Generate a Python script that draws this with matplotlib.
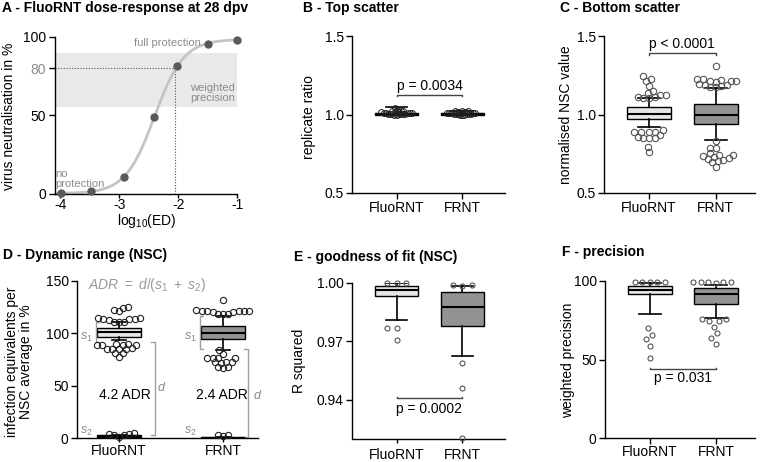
import numpy as np
import matplotlib
matplotlib.use("Agg")
import matplotlib.pyplot as plt
from matplotlib.ticker import FormatStrFormatter

plt.rcParams['font.family'] = ['Liberation Sans', 'DejaVu Sans']
plt.rcParams['axes.unicode_minus'] = False
plt.rcParams['mathtext.fontset'] = 'custom'
plt.rcParams['mathtext.rm'] = 'Liberation Sans'
plt.rcParams['mathtext.it'] = 'Liberation Sans:italic'
plt.rcParams['mathtext.bf'] = 'Liberation Sans:bold'

# ---------------- data ----------------
groups = ["FluoRNT", "FRNT"]

# A - dose response
dose_log10 = [-3.99, -3.48, -2.92, -2.41, -2.02, -1.50, -1.00]
neutralisation = [0.3, 1.5, 10.5, 48.6, 81.6, 95.7, 97.9]
fit_bottom, fit_top, fit_logec50, fit_hill = 0.0, 98.5, -2.40, 1.75
ed80_log10 = -2.05
ed80_level = 80
precision_band = [55, 90]

# B - top scatter (replicate ratio)
b_fluo = [0.998, 1.000, 1.001, 1.002, 1.003, 1.004, 1.005, 1.005, 1.006, 1.007,
          1.008, 1.009, 1.010, 1.011, 1.012, 1.013, 1.015, 1.017, 1.020, 1.022,
          1.025, 1.030, 1.040]
b_frnt = [0.998, 0.999, 1.000, 1.001, 1.002, 1.003, 1.004, 1.005, 1.006, 1.007,
          1.008, 1.009, 1.010, 1.011, 1.012, 1.013, 1.014, 1.016, 1.018, 1.020,
          1.022, 1.025]
b_box = [dict(med=1.005, q1=1.000, q3=1.012, whislo=0.995, whishi=1.050),
         dict(med=1.004, q1=1.000, q3=1.010, whislo=0.996, whishi=1.020)]
b_p = "p = 0.0034"

# C - bottom scatter (normalised NSC value)
c_box = [dict(med=1.003, q1=0.969, q3=1.046, whislo=0.918, whishi=1.103),
         dict(med=1.000, q1=0.939, q3=1.065, whislo=0.838, whishi=1.167)]
c_out_fluo = [1.247, 1.226, 1.213, 1.183, 1.150, 1.139, 1.124, 1.124, 1.113, 1.109,
              1.107, 1.103, 0.901, 0.891, 0.887, 0.887, 0.887, 0.869, 0.859, 0.852,
              0.852, 0.848, 0.795, 0.759]
c_out_frnt = [1.311, 1.226, 1.224, 1.218, 1.215, 1.213, 1.211, 1.209, 1.195, 1.190,
              1.186, 1.182, 1.178, 1.172, 0.831, 0.789, 0.789, 0.753, 0.745, 0.742,
              0.738, 0.731, 0.721, 0.718, 0.712, 0.704, 0.696, 0.668]
c_p = "p < 0.0001"

# D - dynamic range (NSC)
d_box_pos = [dict(med=101.0, q1=96.8, q3=104.8, whislo=93.5, whishi=110.5),
             dict(med=100.3, q1=94.2, q3=106.8, whislo=84.2, whishi=117.0)]
d_box_neg = [dict(med=2.0, q1=1.2, q3=2.6, whislo=0.6, whishi=3.3),
             dict(med=0.4, q1=0.1, q3=0.8, whislo=0.0, whishi=1.2)]
d_out_fluo = [125.0, 124.5, 122.0, 121.0, 115.0, 114.5, 114.0, 113.9, 113.5, 113.0,
              111.3, 111.0, 110.8, 90.0, 89.5, 89.2, 89.0, 88.7, 88.5,
              85.8, 85.5, 85.5, 85.3, 85.2, 81.6, 81.4, 77.7]
d_out_frnt = [131.6, 122.0, 121.8, 121.5, 121.5, 121.2, 121.0, 120.8, 120.5, 118.7,
              118.5, 118.2, 83.9, 80.0, 76.8, 76.6, 76.8, 76.5, 72.5, 72.0, 72.8, 72.2,
              67.5, 67.2, 67.6]
d_neg_fluo = [0.6, 4.2, 4.8, 3.8, 2.6, 2.6]
d_neg_frnt = [2.0, 3.2, 2.6]
d_adr = ["4.2 ADR", "2.4 ADR"]

# E - goodness of fit
e_box = [dict(med=0.9964, q1=0.9933, q3=0.9985, whislo=0.9808, whishi=1.0000),
         dict(med=0.9878, q1=0.9777, q3=0.9952, whislo=0.9623, whishi=0.9986)]
e_out_fluo = [0.99995, 0.99995, 0.99995, 0.9767, 0.9767, 0.9709]
e_out_frnt = [0.9990, 0.9987, 0.9988, 0.9589, 0.9460, 0.9203]
e_p = "p = 0.0002"

# F - precision
f_box = [dict(med=94.0, q1=91.7, q3=96.8, whislo=78.7, whishi=98.8),
         dict(med=91.5, q1=85.5, q3=95.3, whislo=76.6, whishi=97.4)]
f_out_fluo = [99.3, 99.3, 99.3, 99.3, 99.3, 70.2, 65.9, 62.8, 58.7, 51.1]
f_out_frnt = [99.3, 99.3, 99.3, 99.3, 99.3, 99.0, 75.5, 75.5, 74.8, 74.5,
              70.9, 66.6, 63.4, 59.6]
f_p = "p = 0.031"

# ---------------- figure ----------------
W, H = 761, 462
fig = plt.figure(figsize=(W / 100, H / 100), dpi=100)
GREY = '#8a8a8a'
FILLS = ['#e6e6e6', '#939393']


def add_ax(l, t, r, b):
    ax = fig.add_axes([l / W, 1 - b / H, (r - l) / W, (b - t) / H])
    for s in ['top', 'right']:
        ax.spines[s].set_visible(False)
    for s in ['left', 'bottom']:
        ax.spines[s].set_linewidth(1.0)
    ax.tick_params(length=4, width=1.0, labelsize=10, pad=2)
    ax.patch.set_alpha(0)
    return ax


def ftext(x, y, s, **kw):
    fig.text(x / W, 1 - y / H, s, **kw)


def title(x, y, s):
    ftext(x, y, s, fontsize=10, fontweight='bold', ha='left', va='center')


def ylabel(x, y, s):
    ftext(x, y, s, fontsize=10, rotation=90, ha='center', va='center',
          multialignment='center', linespacing=1.05)


def swarm(ax, x0, ys, spacing):
    ys = np.asarray(ys, float)
    tr = ax.transData
    pts = tr.transform(np.column_stack([np.full(len(ys), x0), ys]))
    py = pts[:, 1]
    px0 = pts[0, 0]
    order = np.argsort(py)
    placed = []
    offs = np.zeros(len(ys))
    for i in order:
        y = py[i]
        cands = [0.0]
        for xo, yo in placed:
            dy = abs(y - yo)
            if dy < spacing:
                dx = np.sqrt(spacing ** 2 - dy ** 2)
                cands += [xo + dx, xo - dx]
        cands.sort(key=lambda c: (abs(c), c))
        chosen = 0.0
        for c in cands:
            if all((c - xo) ** 2 + (y - yo) ** 2 >= spacing ** 2 - 1e-6 for xo, yo in placed):
                chosen = c
                break
        placed.append((chosen, y))
        offs[i] = chosen
    xs = tr.inverted().transform(np.column_stack([px0 + offs, py]))[:, 0]
    return xs


def boxes(ax, stats, positions, widths, capw):
    for st, pos, fc in zip(stats, positions, FILLS):
        ax.bxp([st], positions=[pos], widths=widths, capwidths=capw,
               patch_artist=True, showfliers=False, manage_ticks=False,
               boxprops=dict(facecolor=fc, edgecolor='black', linewidth=1.0),
               medianprops=dict(color='black', linewidth=1.5),
               whiskerprops=dict(color='black', linewidth=1.2),
               capprops=dict(color='black', linewidth=1.2))


def points(ax, pos, ys, spacing, ms, mec='#555555', mew=0.8, z=3):
    xs = swarm(ax, pos, ys, spacing)
    ax.plot(xs, ys, 'o', ls='none', mfc='none', mec=mec, ms=ms, mew=mew,
            clip_on=False, zorder=z)


def bracket(ax, y, tick, text, ty, color='#444444'):
    ax.plot([0, 0, 1, 1], [y + tick, y, y, y + tick], color=color, lw=1.0,
            clip_on=False)
    ax.text(0.5, ty, text, ha='center', va='center', fontsize=10)


def cat_axis(ax, xlim):
    ax.set_xlim(*xlim)
    ax.set_xticks(range(len(groups)))
    ax.set_xticklabels(groups, fontsize=10)


# ---------------- A ----------------
axA = add_ax(54.5, 37, 237, 193.5)
axA.set_xlim(-4.1, -1.0)
axA.set_ylim(0, 100)
axA.tick_params(axis='x', length=3, pad=0.5)
axA.axhspan(precision_band[0], precision_band[1], color='#e9e9e9', lw=0, zorder=0)
xc = np.linspace(-4.05, -1.0, 300)
yc = fit_bottom + (fit_top - fit_bottom) / (1 + 10 ** ((fit_logec50 - xc) * fit_hill))
axA.plot(xc, yc, color='#c4c4c4', lw=2.0, zorder=2, clip_on=False)
axA.plot([-4.1, ed80_log10], [ed80_level, ed80_level], ls=(0, (1, 1.5)),
         color='#555555', lw=0.8, zorder=1)
axA.plot([ed80_log10, ed80_log10], [0, ed80_level], ls=(0, (1, 1.5)),
         color='#555555', lw=0.8, zorder=1)
axA.plot(dose_log10, neutralisation, 'o', color='#5a5a5a', ms=5, zorder=3,
         clip_on=False)
axA.set_xticks([-4, -3, -2, -1])
axA.set_yticks([0, 50, 80, 100])
axA.set_yticklabels(['0', '50', '80', '100'])
axA.get_yticklabels()[2].set_color(GREY)
axA.text(-1.62, 96.3, 'full protection', color=GREY, fontsize=8, ha='right', va='center')
axA.text(-1.03, 64.2, 'weighted\nprecision', color=GREY, fontsize=8, ha='right',
         va='center', linespacing=1.0)
axA.text(-4.08, 9.2, 'no\nprotection', color=GREY, fontsize=8, ha='left',
         va='center', linespacing=1.0)
ftext(147, 221, 'log$_{10}$(ED)', fontsize=10, ha='center', va='center')
ylabel(9, 116, 'virus neutralisation in %')
title(2, 8, 'A - FluoRNT dose-response at 28 dpv')

# ---------------- B ----------------
axB = add_ax(352, 36, 505, 193)
axB.set_ylim(0.5, 1.5)
cat_axis(axB, (-0.68, 1.65))
axB.set_yticks([0.5, 1.0, 1.5])
axB.yaxis.set_major_formatter(FormatStrFormatter('%.1f'))
boxes(axB, b_box, [0, 1], 0.66, 0.33)
points(axB, 0, b_fluo, 2.2, 4.2, mec='#222222', mew=0.7)
points(axB, 1, b_frnt, 2.2, 4.2, mec='#222222', mew=0.7)
bracket(axB, 1.124, -0.006, b_p, 1.18)
ylabel(309, 117, 'replicate ratio')
title(303, 8, 'B - Top scatter')

# ---------------- C ----------------
axC = add_ax(604, 36, 755, 193)
axC.set_ylim(0.5, 1.5)
cat_axis(axC, (-0.675, 1.59))
axC.set_yticks([0.5, 1.0, 1.5])
axC.yaxis.set_major_formatter(FormatStrFormatter('%.1f'))
boxes(axC, c_box, [0, 1], 0.66, 0.33)
points(axC, 0, c_out_fluo, 5.8, 4.6)
points(axC, 1, c_out_frnt, 5.6, 4.6)
bracket(axC, 1.389, -0.008, c_p, 1.449)
ylabel(566, 115, 'normalised NSC value')
title(560, 8, 'C - Bottom scatter')

# ---------------- D ----------------
axD = add_ax(77, 281, 258, 438)
axD.set_ylim(0, 150)
cat_axis(axD, (-0.404, 1.337))
axD.tick_params(axis='x', length=3, pad=1)
axD.set_yticks([0, 50, 100, 150])
boxes(axD, d_box_pos, [0, 1], 0.42, 0.14)
boxes(axD, d_box_neg, [0, 1], 0.42, 0.14)
points(axD, 0, d_out_fluo, 5.4, 4.5, mec='#222222')
points(axD, 1, d_out_frnt, 5.4, 4.5, mec='#222222')
points(axD, 0, d_neg_fluo, 5.4, 4.5, mec='#222222')
points(axD, 1, d_neg_frnt, 5.4, 4.5, mec='#222222')
BR = '#a0a0a0'
# s1 brackets (left of box)
for pos, top, bot in [(0, d_box_pos[0]['whishi'], 92.0), (1, d_box_pos[1]['whishi'], 84.8)]:
    xb = pos - 0.225
    axD.plot([xb + 0.035, xb, xb, xb + 0.035], [top, top, bot, bot], color=BR, lw=1.0)
    axD.text(pos - 0.31, 96, '$s_1$', color=GREY, fontsize=9, ha='center', va='center')
    axD.text(pos - 0.31, 6, '$s_2$', color=GREY, fontsize=9, ha='center', va='center')
# d brackets (right)
for pos, xoff, top, bot, ty, tx in [(0, 0.345, 92.0, 2.6, 48, 0.41), (1, 0.24, 84.8, 0.5, 41, 0.335)]:
    xb = pos + xoff
    axD.plot([xb - 0.04, xb, xb, xb - 0.04], [top, top, bot, bot], color=BR, lw=1.0,
             clip_on=False)
    axD.text(pos + tx, ty, '$d$', color=GREY, fontsize=9, ha='center', va='center',
             clip_on=False)
for pos, lab in zip([0.06, 0.99], d_adr):
    axD.text(pos, 41, lab, fontsize=10, ha='center', va='center')
axD.text(-0.30, 146, '$ADR\\ =\\ d/(s_1\\ +\\ s_2)$', color='#999999', fontsize=10,
         ha='left', va='center')
ylabel(19, 362, 'infection equivalents per\nNSC average in %')
title(3, 255, 'D - Dynamic range (NSC)')

# ---------------- E ----------------
axE = add_ax(352, 283, 505, 438.5)
axE.set_ylim(0.92, 1.0)
cat_axis(axE, (-0.68, 1.65))
axE.set_yticks([0.94, 0.97, 1.00])
axE.yaxis.set_major_formatter(FormatStrFormatter('%.2f'))
axE.tick_params(axis='x', length=3, pad=4)
boxes(axE, e_box, [0, 1], 0.66, 0.32)
points(axE, 0, e_out_fluo, 9.5, 3.6)
points(axE, 1, e_out_frnt, 9.5, 3.6)
bracket(axE, 0.9406, 0.0008, e_p, 0.9352)
ylabel(299, 361, 'R squared')
title(294, 257, 'E - goodness of fit (NSC)')

# ---------------- F ----------------
axF = add_ax(605, 281, 755, 438)
axF.set_ylim(0, 100)
cat_axis(axF, (-0.675, 1.59))
axF.tick_params(axis='x', length=4, pad=1)
axF.set_yticks([0, 50, 100])
boxes(axF, f_box, [0, 1], 0.66, 0.33)
points(axF, 0, f_out_fluo, 7.5, 3.6)
points(axF, 1, f_out_frnt, 7.5, 3.6)
bracket(axF, 43.8, 1.0, f_p, 37.9)
ylabel(568, 360, 'weighted precision')
title(562, 252, 'F - precision')

fig.savefig('out.png', dpi=100)
